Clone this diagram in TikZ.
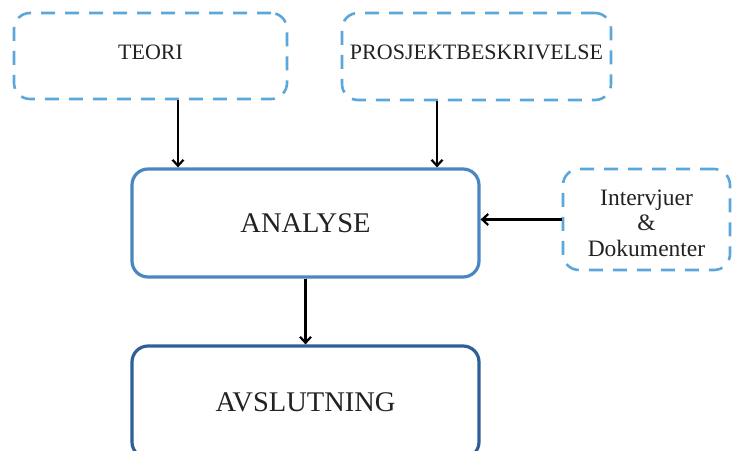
\documentclass[tikz,border=0pt]{standalone}
\usepackage{fontspec}
\setmainfont{Liberation Serif}
\usetikzlibrary{arrows.meta}
\definecolor{dashblue}{HTML}{5BA7DC}
\definecolor{midblue}{HTML}{4A87C2}
\definecolor{deepblue}{HTML}{2F5F99}
\definecolor{ink}{HTML}{222222}
\tikzset{
  source/.style={draw=dashblue, line width=2.6pt, dash pattern=on 14pt off 10pt,
    rounded corners=16pt},
  sourcetext/.style={align=center, text=ink, font=\fontsize{22}{25.5}\selectfont},
  stage/.style={line width=3.2pt, rounded corners=16pt, text=ink,
    font=\fontsize{28.5}{32}\selectfont},
  arr/.style={draw=black, line width=2.2pt, -{Straight Barb[length=6pt,width=11pt]}}
}
\begin{document}
\begin{tikzpicture}[x=1pt,y=-1pt]
\useasboundingbox (0,0) rectangle (741,450);
\node[source, minimum width=273pt, minimum height=86pt,
  label={[sourcetext, yshift=4pt]center:TEORI}] (teori) at (150.5,56) {};
\node[source, minimum width=269pt, minimum height=87pt,
  label={[sourcetext, yshift=4pt]center:PROSJEKTBESKRIVELSE}] (prosj) at (476.5,56.5) {};
\node[source, minimum width=167pt, minimum height=101pt,
  label={[sourcetext, font=\fontsize{23.5}{25.5}\selectfont, yshift=-3.5pt]center:{Intervjuer\\\&\\Dokumenter}}] (interv) at (646.5,219.5) {};
\node[stage, draw=midblue, minimum width=347pt, minimum height=108pt] (analyse) at (305.5,223) {ANALYSE};
\node[stage, draw=deepblue, minimum width=347pt, minimum height=112pt] (avsl) at (305.5,402) {AVSLUTNING};
\draw[arr] ([xshift=27.5pt]teori.south) -- ([xshift=27.5pt]teori.south |- analyse.north);
\draw[arr] ([xshift=-39.5pt]prosj.south) -- ([xshift=-39.5pt]prosj.south |- analyse.north);
\draw[arr] (interv.west) -- (interv.west -| analyse.east);
\draw[arr] (analyse.south) -- (avsl.north);
\end{tikzpicture}
\end{document}
